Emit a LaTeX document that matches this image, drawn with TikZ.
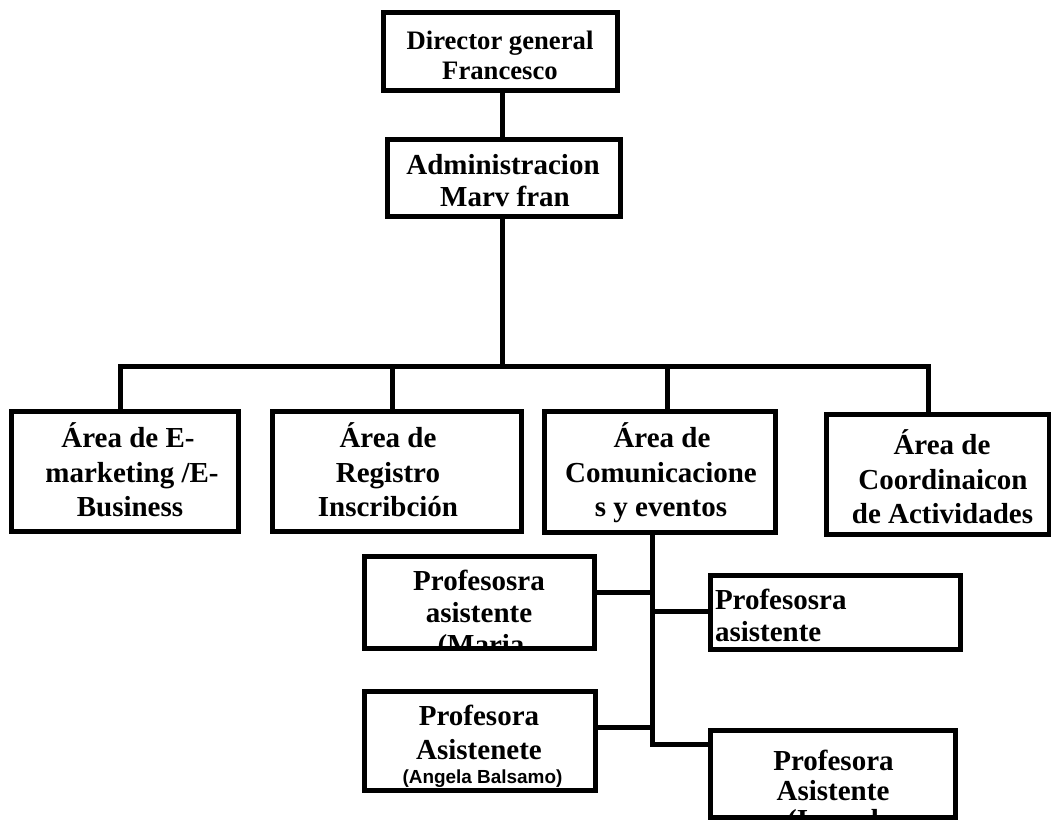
\documentclass[tikz,border=0pt]{standalone}
\usepackage{fontspec}
\setmainfont{Liberation Serif}
\newfontfamily\sansb{Liberation Sans}
\newcommand\inclip[1]{\clip ([shift={(1.875pt,-1.875pt)}]#1.north west) rectangle ([shift={(-1.875pt,1.875pt)}]#1.south east);}
\begin{document}
\begin{tikzpicture}[x=0.75pt,y=-0.75pt,
  box/.style={draw, line width=3.75pt, rectangle, inner sep=0pt, outer sep=0pt},
  conn/.style={line width=3.75pt},
  lbl/.style={anchor=base, inner sep=0pt, outer sep=0pt, font=\fontsize{21.75}{26}\selectfont\bfseries},
  lbld/.style={lbl, font=\fontsize{20}{24}\selectfont\bfseries},
  lbls/.style={anchor=base, inner sep=0pt, outer sep=0pt, font=\sansb\fontsize{14.2}{17}\selectfont\bfseries}]
\useasboundingbox (0,0) rectangle (1051,823);

% boxes
\node[box, minimum width=175.5pt, minimum height=58.5pt] (dir) at (500.5,51.5) {};
\node[box, minimum width=174.75pt, minimum height=57.75pt] (adm) at (504,178) {};
\node[box, minimum width=170.25pt, minimum height=90pt] (a1) at (125,471.5) {};
\node[box, minimum width=186.75pt, minimum height=90pt] (a2) at (397,471.5) {};
\node[box, minimum width=173.25pt, minimum height=90.75pt] (a3) at (660,472) {};
\node[box, minimum width=167.25pt, minimum height=90pt] (a4) at (938,474.5) {};
\node[box, minimum width=172.5pt, minimum height=69pt] (p1) at (479.5,602.5) {};
\node[box, minimum width=187.5pt, minimum height=55.5pt] (p2) at (835.5,612.5) {};
\node[box, minimum width=173.25pt, minimum height=74.25pt] (p3) at (480,741) {};
\node[box, minimum width=183.75pt, minimum height=65.25pt] (p4) at (833,774) {};

% texts
\begin{scope}\inclip{dir}
\node[lbld] (dirA) at (500,50) {Director general};
\node[lbld] (dirB) at (500,80) {Francesco};
\end{scope}
\begin{scope}\inclip{adm}
\node[lbl] (admA) at (503,175) {Administracion};
\node[lbl] (admB) at (505,207) {Marv fran};
\end{scope}
\begin{scope}\inclip{a1}
\node[lbl] (a1A) at (128,448) {Área de E-};
\node[lbl] (a1B) at (132,482.5) {marketing /E-};
\node[lbl] (a1C) at (130,517) {Business};
\end{scope}
\begin{scope}\inclip{a2}
\node[lbl] (a2A) at (388,448) {Área de};
\node[lbl] (a2B) at (388,482.5) {Registro};
\node[lbl] (a2C) at (388,517) {Inscribción};
\end{scope}
\begin{scope}\inclip{a3}
\node[lbl] (a3A) at (662,448) {Área de};
\node[lbl] (a3B) at (661,482.5) {Comunicacione};
\node[lbl] (a3C) at (661,517) {s y eventos};
\end{scope}
\begin{scope}\inclip{a4}
\node[lbl] (a4A) at (942,455) {Área de};
\node[lbl] (a4B) at (943,489.5) {Coordinaicon};
\node[lbl] (a4C) at (942.5,524) {de Actividades};
\end{scope}
\begin{scope}\inclip{p1}
\node[lbl] (p1A) at (479,591) {Profesosra};
\node[lbl] (p1B) at (479,623) {asistente};
\node[lbl] (p1C) at (481,655) {(Maria};
\end{scope}
\begin{scope}\inclip{p2}
\node[lbl, anchor=base west] (p2A) at (715,610) {Profesosra};
\node[lbl, anchor=base west] (p2B) at (715,642) {asistente};
\end{scope}
\begin{scope}\inclip{p3}
\node[lbl] (p3A) at (479,725) {Profesora};
\node[lbl] (p3B) at (479,760) {Asistenete};
\node[lbls] (p3C) at (482.5,783) {(Angela Balsamo)};
\end{scope}
\begin{scope}\inclip{p4}
\node[lbl] (p4A) at (833.5,771) {Profesora};
\node[lbl] (p4B) at (833,801) {Asistente};
\node[lbl] (p4C) at (833,830) {(Ismael};
\end{scope}

% connectors
\coordinate (tr) at (502,367);
\draw[conn] (dir.south -| tr) -- (adm.north -| tr);
\draw[conn] (adm.south -| tr) -- (tr);
\coordinate (b1) at (120,367);
\coordinate (b2) at (392,367);
\coordinate (b3) at (667,367);
\coordinate (b4) at (928,367);
\draw[conn] (a1.north -| b1) -- (b1) -- (b4) -- (a4.north -| b4);
\draw[conn] (b2) -- (a2.north -| b2);
\draw[conn] (b3) -- (a3.north -| b3);

\coordinate (sv) at (652,745);
\draw[conn] (a3.south -| sv) -- (sv) -- (sv -| p4.west);
\coordinate (j1) at (652,593);
\draw[conn] (j1 -| p1.east) -- (j1);
\coordinate (j2) at (652,612);
\draw[conn] (j2) -- (j2 -| p2.west);
\coordinate (j3) at (652,728);
\draw[conn] (j3 -| p3.east) -- (j3);
\end{tikzpicture}
\end{document}
